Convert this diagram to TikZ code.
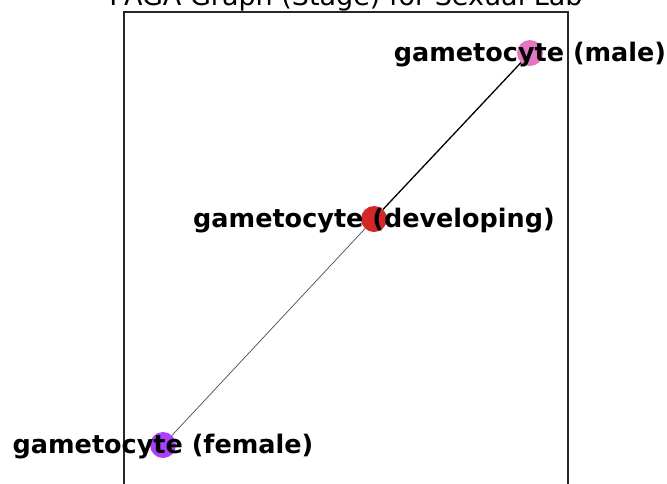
\documentclass[tikz,border=0pt]{standalone}
\usepackage{fontspec}
\setmainfont{DejaVu Sans}
\definecolor{malecol}{HTML}{E377C2}
\definecolor{devcol}{HTML}{D62728}
\definecolor{femalecol}{HTML}{AA40FC}
\tikzset{
  dot/.style={circle, inner sep=0pt, minimum size=26pt},
  lab/.style={font=\fontsize{25.5}{30}\selectfont\bfseries, inner sep=0pt, yshift=-2pt},
  heavyedge/.style={black, line width=1.3pt},
  lightedge/.style={black!70, line width=0.7pt},
}
\begin{document}
\begin{tikzpicture}[x=1pt, y=-1pt]
    \useasboundingbox (0,0) rectangle (667,483);
    \clip (0,0) rectangle (667,483);
    % title, cut at the top
    \node[anchor=base, font=\fontsize{27}{32}\selectfont, inner sep=0pt] (title) at (346,5) {PAGA Graph (Stage) for Sexual Lab};
    % axes frame
    \draw[black!85, line width=1.1pt] (124,500) -- (124,12) -- (568,12) -- (568,500);
    % nodes
    \node[dot, fill=malecol] (male) at (530,53) {};
    \node[dot, fill=devcol] (dev) at (374,219) {};
    \node[dot, fill=femalecol] (female) at (163,445) {};
    % edges
    \draw[heavyedge] (dev) -- (male);
    \draw[lightedge] (dev) -- (female);
    % labels
    \node[lab] at (male) {gametocyte (male)};
    \node[lab] at (dev) {gametocyte (developing)};
    \node[lab] at (female) {gametocyte (female)};
\end{tikzpicture}
\end{document}
